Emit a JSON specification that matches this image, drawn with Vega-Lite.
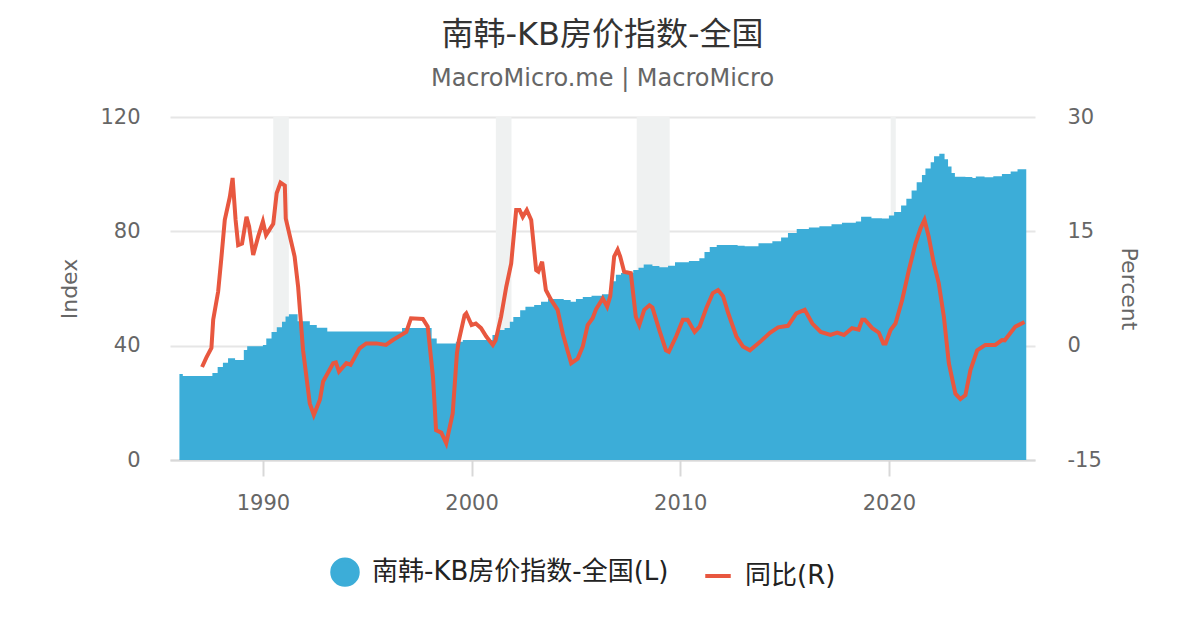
{
  "$schema": "https://vega.github.io/schema/vega-lite/v6.json",
  "width": 865,
  "height": 343,
  "autosize": {"type": "none"},
  "padding": {"left": 170, "top": 117, "right": 165, "bottom": 170},
  "background": "#ffffff",
  "title": {
    "text": "南韩-KB房价指数-全国",
    "subtitle": "MacroMicro.me | MacroMicro",
    "anchor": "middle",
    "fontSize": 32,
    "fontWeight": "normal",
    "color": "#333333",
    "subtitleFontSize": 24,
    "subtitleColor": "#666666",
    "subtitlePadding": 15,
    "offset": 14
  },
  "datasets": {
    "recessions": [
      {"start": "1990-07-01", "end": "1991-03-31"},
      {"start": "2001-03-01", "end": "2001-11-30"},
      {"start": "2007-12-01", "end": "2009-06-30"},
      {"start": "2020-02-01", "end": "2020-04-30"}
    ],
    "index": [
      {"date": "1986-01-01", "value": 30.1},
      {"date": "1986-03-01", "value": 29.4},
      {"date": "1987-08-01", "value": 30.4},
      {"date": "1987-11-01", "value": 32.5},
      {"date": "1988-02-01", "value": 34.0},
      {"date": "1988-05-01", "value": 35.6},
      {"date": "1988-09-01", "value": 35.0},
      {"date": "1989-02-01", "value": 38.5},
      {"date": "1989-04-01", "value": 39.8},
      {"date": "1990-01-01", "value": 40.2},
      {"date": "1990-03-01", "value": 42.5},
      {"date": "1990-06-01", "value": 44.8},
      {"date": "1990-09-01", "value": 46.4},
      {"date": "1990-12-01", "value": 48.4},
      {"date": "1991-02-01", "value": 50.2},
      {"date": "1991-04-01", "value": 51.0},
      {"date": "1991-09-01", "value": 48.5},
      {"date": "1992-04-01", "value": 47.2},
      {"date": "1992-08-01", "value": 46.3},
      {"date": "1993-02-01", "value": 45.0},
      {"date": "1996-09-01", "value": 46.2},
      {"date": "1998-02-01", "value": 42.5},
      {"date": "1998-05-01", "value": 40.8},
      {"date": "1999-04-01", "value": 41.4},
      {"date": "1999-08-01", "value": 42.0},
      {"date": "2001-01-01", "value": 43.7},
      {"date": "2001-04-01", "value": 45.5},
      {"date": "2001-08-01", "value": 46.2},
      {"date": "2001-11-01", "value": 48.4},
      {"date": "2002-01-01", "value": 50.0},
      {"date": "2002-05-01", "value": 52.4},
      {"date": "2002-08-01", "value": 53.6},
      {"date": "2003-01-01", "value": 54.2},
      {"date": "2003-05-01", "value": 55.4},
      {"date": "2003-09-01", "value": 56.3},
      {"date": "2004-06-01", "value": 56.0},
      {"date": "2004-10-01", "value": 55.4},
      {"date": "2005-01-01", "value": 56.3},
      {"date": "2005-05-01", "value": 57.0},
      {"date": "2005-10-01", "value": 57.5},
      {"date": "2006-04-01", "value": 58.0},
      {"date": "2006-08-01", "value": 59.5},
      {"date": "2006-10-01", "value": 62.5},
      {"date": "2006-12-01", "value": 64.8},
      {"date": "2007-03-01", "value": 65.4},
      {"date": "2007-10-01", "value": 66.5},
      {"date": "2008-01-01", "value": 67.3},
      {"date": "2008-04-01", "value": 68.4},
      {"date": "2008-09-01", "value": 67.9},
      {"date": "2009-01-01", "value": 67.4},
      {"date": "2009-06-01", "value": 68.0},
      {"date": "2009-10-01", "value": 69.2},
      {"date": "2010-06-01", "value": 69.6},
      {"date": "2010-12-01", "value": 70.6},
      {"date": "2011-03-01", "value": 72.8},
      {"date": "2011-06-01", "value": 74.5},
      {"date": "2011-10-01", "value": 75.2},
      {"date": "2012-10-01", "value": 75.0},
      {"date": "2013-02-01", "value": 74.8},
      {"date": "2013-10-01", "value": 75.8},
      {"date": "2014-06-01", "value": 76.5},
      {"date": "2014-11-01", "value": 77.8},
      {"date": "2015-03-01", "value": 79.4},
      {"date": "2015-08-01", "value": 80.8},
      {"date": "2016-03-01", "value": 81.3},
      {"date": "2016-09-01", "value": 81.8},
      {"date": "2017-04-01", "value": 82.5},
      {"date": "2017-10-01", "value": 83.0},
      {"date": "2018-06-01", "value": 83.4},
      {"date": "2018-09-01", "value": 85.1},
      {"date": "2019-03-01", "value": 84.6},
      {"date": "2019-09-01", "value": 84.5},
      {"date": "2020-01-01", "value": 85.5},
      {"date": "2020-04-01", "value": 86.8},
      {"date": "2020-08-01", "value": 89.0},
      {"date": "2020-11-01", "value": 91.4},
      {"date": "2021-02-01", "value": 94.3},
      {"date": "2021-05-01", "value": 97.2},
      {"date": "2021-08-01", "value": 99.7},
      {"date": "2021-10-01", "value": 102.0},
      {"date": "2022-01-01", "value": 104.2},
      {"date": "2022-03-01", "value": 106.3},
      {"date": "2022-06-01", "value": 107.1},
      {"date": "2022-09-01", "value": 105.2},
      {"date": "2022-11-01", "value": 102.7},
      {"date": "2023-01-01", "value": 100.4},
      {"date": "2023-03-01", "value": 99.1},
      {"date": "2023-09-01", "value": 99.0},
      {"date": "2024-01-01", "value": 98.7},
      {"date": "2024-03-01", "value": 99.2},
      {"date": "2024-08-01", "value": 98.9},
      {"date": "2025-01-01", "value": 99.3},
      {"date": "2025-06-01", "value": 100.1},
      {"date": "2025-11-01", "value": 100.9},
      {"date": "2026-03-01", "value": 101.7},
      {"date": "2026-08-01", "value": 102.0}
    ],
    "yoy": [
      {"date": "1987-02-01", "value": -2.8},
      {"date": "1987-04-15", "value": -1.6},
      {"date": "1987-07-15", "value": -0.3},
      {"date": "1987-08-15", "value": 3.4},
      {"date": "1987-11-10", "value": 7.1},
      {"date": "1988-01-05", "value": 11.5},
      {"date": "1988-03-05", "value": 16.5},
      {"date": "1988-06-01", "value": 19.5},
      {"date": "1988-07-20", "value": 22.0},
      {"date": "1988-09-10", "value": 16.5},
      {"date": "1988-10-25", "value": 13.2},
      {"date": "1989-01-01", "value": 13.4},
      {"date": "1989-03-20", "value": 16.9},
      {"date": "1989-05-05", "value": 15.6},
      {"date": "1989-07-15", "value": 11.9},
      {"date": "1989-10-10", "value": 14.3},
      {"date": "1990-01-01", "value": 16.3},
      {"date": "1990-02-25", "value": 14.5},
      {"date": "1990-07-01", "value": 16.0},
      {"date": "1990-08-30", "value": 20.0},
      {"date": "1990-11-05", "value": 21.4},
      {"date": "1991-01-20", "value": 21.0},
      {"date": "1991-02-05", "value": 16.7},
      {"date": "1991-07-10", "value": 11.7},
      {"date": "1991-09-10", "value": 7.7},
      {"date": "1991-12-05", "value": -0.6},
      {"date": "1992-04-01", "value": -7.6},
      {"date": "1992-06-10", "value": -9.1},
      {"date": "1992-09-25", "value": -7.1},
      {"date": "1992-11-20", "value": -4.7},
      {"date": "1993-05-15", "value": -2.3},
      {"date": "1993-07-01", "value": -2.2},
      {"date": "1993-08-25", "value": -3.4},
      {"date": "1994-01-01", "value": -2.3},
      {"date": "1994-03-15", "value": -2.5},
      {"date": "1994-08-20", "value": -0.35},
      {"date": "1994-12-15", "value": 0.3},
      {"date": "1995-06-10", "value": 0.3},
      {"date": "1995-11-25", "value": 0.1},
      {"date": "1996-03-25", "value": 0.74},
      {"date": "1996-11-15", "value": 1.8},
      {"date": "1997-02-05", "value": 3.6},
      {"date": "1997-09-01", "value": 3.5},
      {"date": "1997-11-25", "value": 2.5},
      {"date": "1998-02-25", "value": -4.1},
      {"date": "1998-04-20", "value": -11.1},
      {"date": "1998-07-20", "value": -11.4},
      {"date": "1998-10-15", "value": -12.8},
      {"date": "1999-02-05", "value": -8.9},
      {"date": "1999-04-20", "value": -1.0},
      {"date": "1999-05-25", "value": 0.74},
      {"date": "1999-09-01", "value": 4.0},
      {"date": "1999-10-01", "value": 4.25},
      {"date": "2000-01-01", "value": 2.7},
      {"date": "2000-03-15", "value": 2.9},
      {"date": "2000-06-15", "value": 2.3},
      {"date": "2000-09-15", "value": 1.2},
      {"date": "2001-01-08", "value": 0.1},
      {"date": "2001-02-25", "value": 0.7},
      {"date": "2001-06-01", "value": 3.8},
      {"date": "2001-08-30", "value": 7.7},
      {"date": "2001-11-25", "value": 10.8},
      {"date": "2002-02-20", "value": 17.8},
      {"date": "2002-04-20", "value": 17.8},
      {"date": "2002-06-15", "value": 16.9},
      {"date": "2002-08-25", "value": 17.8},
      {"date": "2002-11-10", "value": 16.5},
      {"date": "2003-02-05", "value": 9.9},
      {"date": "2003-03-15", "value": 9.7},
      {"date": "2003-05-20", "value": 11.0},
      {"date": "2003-07-25", "value": 7.3},
      {"date": "2003-10-25", "value": 6.0},
      {"date": "2004-02-15", "value": 4.7},
      {"date": "2004-05-15", "value": 1.6},
      {"date": "2004-08-05", "value": -0.6},
      {"date": "2004-10-10", "value": -2.3},
      {"date": "2005-02-01", "value": -1.7},
      {"date": "2005-05-01", "value": -0.1},
      {"date": "2005-07-25", "value": 2.7},
      {"date": "2005-10-20", "value": 3.6},
      {"date": "2005-12-20", "value": 4.8},
      {"date": "2006-04-15", "value": 6.2},
      {"date": "2006-07-01", "value": 5.1},
      {"date": "2006-08-25", "value": 6.5},
      {"date": "2006-11-01", "value": 11.7},
      {"date": "2007-01-01", "value": 12.6},
      {"date": "2007-02-15", "value": 11.7},
      {"date": "2007-04-25", "value": 9.7},
      {"date": "2007-08-20", "value": 9.5},
      {"date": "2007-11-15", "value": 3.8},
      {"date": "2008-01-15", "value": 2.7},
      {"date": "2008-04-10", "value": 4.7},
      {"date": "2008-07-10", "value": 5.3},
      {"date": "2008-09-01", "value": 5.0},
      {"date": "2009-01-01", "value": 2.0},
      {"date": "2009-04-25", "value": -0.6},
      {"date": "2009-06-15", "value": -0.8},
      {"date": "2009-10-20", "value": 1.2},
      {"date": "2010-02-15", "value": 3.4},
      {"date": "2010-05-10", "value": 3.4},
      {"date": "2010-09-10", "value": 1.8},
      {"date": "2010-12-05", "value": 2.5},
      {"date": "2011-04-01", "value": 4.9},
      {"date": "2011-07-25", "value": 6.9},
      {"date": "2011-10-25", "value": 7.3},
      {"date": "2012-01-20", "value": 6.5},
      {"date": "2012-04-20", "value": 4.25},
      {"date": "2012-09-10", "value": 1.2},
      {"date": "2013-01-01", "value": -0.1},
      {"date": "2013-05-05", "value": -0.6},
      {"date": "2013-10-30", "value": 0.5},
      {"date": "2014-04-20", "value": 1.7},
      {"date": "2014-09-10", "value": 2.4},
      {"date": "2015-03-01", "value": 2.6},
      {"date": "2015-07-25", "value": 4.25},
      {"date": "2015-12-20", "value": 4.7},
      {"date": "2016-05-01", "value": 2.9},
      {"date": "2016-09-25", "value": 1.8},
      {"date": "2017-03-15", "value": 1.4},
      {"date": "2017-07-10", "value": 1.7},
      {"date": "2017-11-05", "value": 1.4},
      {"date": "2018-03-25", "value": 2.3},
      {"date": "2018-07-20", "value": 2.1},
      {"date": "2018-09-20", "value": 3.4},
      {"date": "2018-11-05", "value": 3.4},
      {"date": "2019-03-15", "value": 2.3},
      {"date": "2019-07-10", "value": 1.7},
      {"date": "2019-09-25", "value": 0.3},
      {"date": "2019-11-05", "value": 0.3},
      {"date": "2020-01-30", "value": 2.05},
      {"date": "2020-04-25", "value": 2.9},
      {"date": "2020-08-20", "value": 6.0},
      {"date": "2020-12-15", "value": 9.9},
      {"date": "2021-04-10", "value": 13.4},
      {"date": "2021-07-08", "value": 15.4},
      {"date": "2021-09-15", "value": 16.5},
      {"date": "2021-11-28", "value": 14.3},
      {"date": "2022-02-25", "value": 10.8},
      {"date": "2022-05-22", "value": 8.2},
      {"date": "2022-08-20", "value": 3.8},
      {"date": "2022-11-15", "value": -2.3},
      {"date": "2023-03-10", "value": -6.3},
      {"date": "2023-06-05", "value": -7.0},
      {"date": "2023-09-01", "value": -6.5},
      {"date": "2023-11-28", "value": -3.2},
      {"date": "2024-03-25", "value": -0.6},
      {"date": "2024-08-15", "value": 0.1},
      {"date": "2025-02-05", "value": 0.1},
      {"date": "2025-06-01", "value": 0.74},
      {"date": "2025-07-20", "value": 0.7},
      {"date": "2026-01-22", "value": 2.5},
      {"date": "2026-07-01", "value": 3.1}
    ]
  },
  "encoding": {
    "x": {
      "field": "date",
      "type": "temporal",
      "title": null,
      "scale": {"domain": ["1985-07-20", "2027-01-01"]},
      "axis": {
        "values": [{"year": 1990}, {"year": 2000}, {"year": 2010}, {"year": 2020}],
        "format": "%Y",
        "grid": false,
        "tickSize": 16,
        "labelPadding": 16,
        "domainColor": "#d8d8d8",
        "tickColor": "#d8d8d8",
        "domainWidth": 2,
        "tickWidth": 2
      }
    }
  },
  "layer": [
    {
      "data": {"name": "recessions"},
      "mark": {"type": "rect", "color": "#eff1f1"},
      "encoding": {
        "x": {"field": "start", "type": "temporal"},
        "x2": {"field": "end"}
      }
    },
    {
      "data": {"name": "index"},
      "mark": {"type": "area", "interpolate": "step-after"},
      "encoding": {
        "y": {
          "field": "value",
          "type": "quantitative",
          "title": "Index",
          "scale": {"domain": [0, 120], "nice": false},
          "axis": {
            "orient": "left",
            "values": [0, 40, 80, 120],
            "grid": true,
            "gridColor": "#e6e6e6",
            "gridWidth": 2,
            "domain": false,
            "ticks": false,
            "labelPadding": 30,
            "titlePadding": 18
          }
        },
        "color": {
          "datum": "南韩-KB房价指数-全国(L)",
          "scale": {
            "domain": ["南韩-KB房价指数-全国(L)", "同比(R)"],
            "range": ["#3cadd8", "#e8573f"]
          },
          "legend": {
            "title": null,
            "orient": "none",
            "direction": "horizontal",
            "legendX": 160,
            "legendY": 440,
            "labelFontSize": 26,
            "labelLimit": 0,
            "labelColor": "#222222",
            "labelOffset": 12,
            "columnPadding": 28,
            "symbolSize": 650,
            "encode": {
              "symbols": {
                "update": {
                  "shape": {"signal": "datum.value === '同比(R)' ? 'stroke' : 'circle'"},
                  "fill": {"signal": "datum.value === '同比(R)' ? 'transparent' : '#3cadd8'"},
                  "stroke": {"signal": "datum.value === '同比(R)' ? '#e8573f' : 'transparent'"},
                  "strokeWidth": {"value": 4},
                  "opacity": {"value": 1}
                }
              }
            }
          }
        }
      }
    },
    {
      "data": {"name": "yoy"},
      "mark": {"type": "line", "strokeWidth": 4},
      "encoding": {
        "y": {
          "field": "value",
          "type": "quantitative",
          "title": "Percent",
          "scale": {"domain": [-15, 30], "nice": false},
          "axis": {
            "orient": "right",
            "values": [-15, 0, 15, 30],
            "labelExpr": "'' + datum.value",
            "grid": false,
            "domain": false,
            "ticks": false,
            "labelPadding": 32,
            "titlePadding": 15
          }
        },
        "color": {"datum": "同比(R)"}
      }
    }
  ],
  "resolve": {"scale": {"y": "independent"}},
  "config": {
    "font": "DejaVu Sans, Noto Sans CJK SC",
    "view": {"stroke": null},
    "axis": {
      "labelFontSize": 21,
      "labelColor": "#666666",
      "titleFontSize": 22,
      "titleColor": "#666666",
      "titleFontWeight": "normal"
    },
    "legend": {"labelFont": "DejaVu Sans, Noto Sans CJK SC"}
  }
}
